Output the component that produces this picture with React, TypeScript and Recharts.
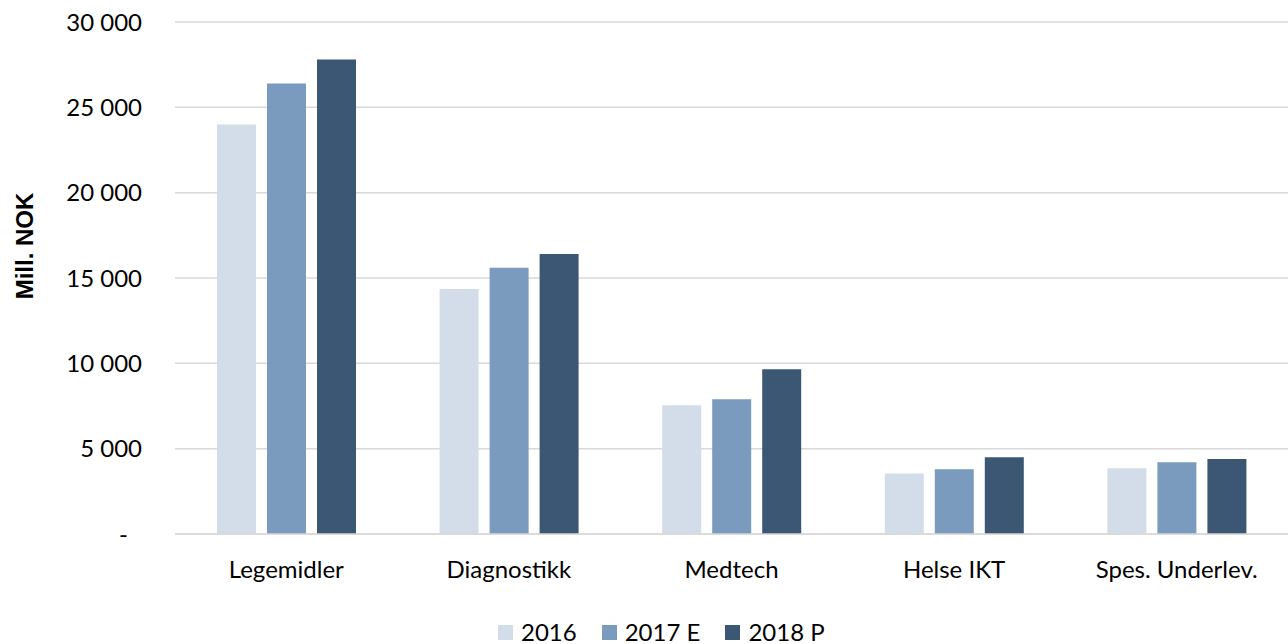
import React from "react";
import { BarChart, Bar, XAxis, YAxis, CartesianGrid, Legend, Label } from "recharts";

const categories = ["Legemidler", "Diagnostikk", "Medtech", "Helse IKT", "Spes. Underlev."];
const v2016 = [24000, 14350, 7550, 3550, 3850];
const v2017 = [26400, 15600, 7900, 3800, 4200];
const v2018 = [27800, 16400, 9650, 4500, 4400];
const yTicks = [0, 5000, 10000, 15000, 20000, 25000, 30000];

const series = [
  { key: "y2016", name: "2016", color: "#D3DDE9" },
  { key: "y2017", name: "2017 E", color: "#7A9BBE" },
  { key: "y2018", name: "2018 P", color: "#3B5774" },
];

const data = categories.map((c, i) => ({
  name: c,
  y2016: v2016[i],
  y2017: v2017[i],
  y2018: v2018[i],
}));

const FONT = "Lato, 'Open Sans', sans-serif";

const fmt = (v: number) =>
  v === 0 ? "-" : String(v).replace(/\B(?=(\d{3})+(?!\d))/g, " ");

function YTick(props: any) {
  const { x, y, payload } = props;
  const zero = payload.value === 0;
  return (
    <text
      x={zero ? x - 14 : x}
      y={y}
      dy="0.355em"
      textAnchor="end"
      fontSize={24}
      fontFamily={FONT}
      fill="#000"
    >
      {fmt(payload.value)}
    </text>
  );
}

function LegendContent() {
  return (
    <div
      style={{
        height: 40,
        width: 1288,
        boxSizing: "border-box",
        paddingTop: 16,
        paddingLeft: 498,
        display: "flex",
        alignItems: "center",
        fontFamily: FONT,
        fontSize: 24,
        lineHeight: "24px",
        color: "#000",
      }}
    >
      {series.map((s) => (
        <div key={s.key} style={{ display: "flex", alignItems: "center", marginRight: 25 }}>
          <span style={{ width: 15, height: 15, background: s.color, marginRight: 8, display: "inline-block" }} />
          <span>{s.name}</span>
        </div>
      ))}
    </div>
  );
}

export default function App() {
  return (
    <div style={{ position: "absolute", left: 0, top: 0, width: 1288, height: 644, background: "#fff" }}>
      <BarChart
        width={1288}
        height={644}
        data={data}
        margin={{ top: 22, right: 0, left: 0, bottom: 0 }}
        barSize={39}
        barGap={11}
      >
        <CartesianGrid vertical={false} stroke="#d9d9d9" strokeWidth={1.5} />
        <XAxis
          dataKey="name"
          height={70}
          tickLine={false}
          tickSize={0}
          tickMargin={27}
          axisLine={{ stroke: "#d9d9d9", strokeWidth: 1.5 }}
          tick={{ fontSize: 24, fontFamily: FONT, fill: "#000" }}
        />
        <YAxis
          width={175}
          domain={[0, 30000]}
          ticks={yTicks}
          interval={0}
          axisLine={false}
          tickLine={false}
          tickSize={0}
          tickMargin={33}
          tick={<YTick />}
        >
          <Label
            content={(p: any) => {
              const vb = p.viewBox || {};
              const cx = 24;
              const cy = vb.y + vb.height / 2 - 32;
              return (
                <text
                  x={cx}
                  y={cy}
                  transform={`rotate(-90 ${cx} ${cy})`}
                  textAnchor="middle"
                  dominantBaseline="central"
                  fontSize={24}
                  fontWeight="bold"
                  fontFamily="'Liberation Sans', Arial, sans-serif"
                  fill="#000"
                >
                  Mill. NOK
                </text>
              );
            }}
          />
        </YAxis>
        <Legend verticalAlign="bottom" content={<LegendContent />} wrapperStyle={{ left: 0, width: 1288 }} />
        {series.map((s) => (
          <Bar key={s.key} dataKey={s.key} name={s.name} fill={s.color} isAnimationActive={false} />
        ))}
      </BarChart>
    </div>
  );
}
